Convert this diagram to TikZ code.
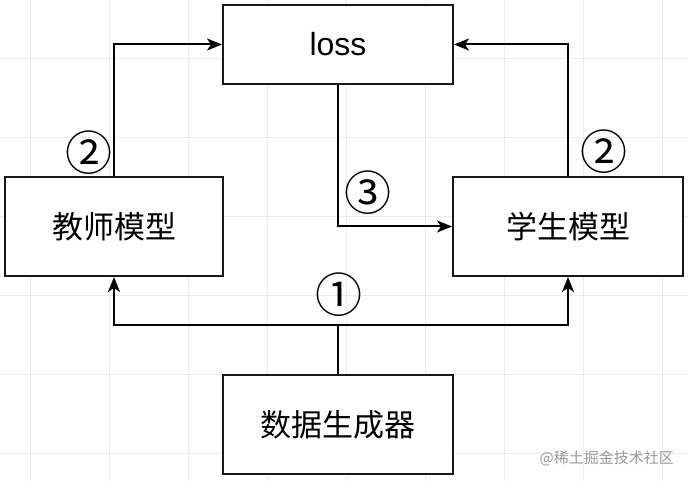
\documentclass[tikz,border=0pt]{standalone}
\usepackage{fontspec}
\setmainfont{Liberation Sans}
\newfontfamily\cjk{Noto Sans CJK SC}
\usetikzlibrary{arrows.meta}
\begin{document}
\begin{tikzpicture}[x=1pt,y=-1pt,
  box/.style={draw=black!90, line width=2pt, rectangle, inner sep=0pt, fill=white},
  cjklabel/.style={font=\cjk\fontsize{31}{36}\selectfont},
  conn/.style={line width=2pt, -{Stealth[length=15pt,width=12pt,inset=4pt]}},
  wire/.style={line width=2pt},
  num/.style={font=\cjk\fontsize{47}{52}\selectfont, inner sep=0pt},
  gridline/.style={draw=black!8, line width=0.8pt}]
\useasboundingbox (0,0) rectangle (688,481);
\fill[white] (0,0) rectangle (688,481);
% grid
\foreach \gx in {30,109,188,267,346,425,504,583,662} {\draw[gridline] (\gx,0) -- (\gx,481);}
\foreach \gy in {58,137,216,295,374,453} {\draw[gridline] (0,\gy) -- (688,\gy);}
% boxes
\node[box, minimum width=230pt, minimum height=79pt, font=\fontsize{32}{36}\selectfont] (loss) at (338,44.5) {loss};
\node[box, cjklabel, minimum width=218pt, minimum height=99pt] (teacher) at (114,226.5) {教师模型};
\node[box, cjklabel, minimum width=230pt, minimum height=99pt] (student) at (568,226.5) {学生模型};
\node[box, cjklabel, minimum width=230pt, minimum height=99pt] (data) at (338,424.5) {数据生成器};
% connectors
\draw[conn] (teacher.north) |- (loss.west);
\draw[conn] (student.north) |- (loss.east);
\draw[conn] (loss.south) |- (student.west);
\coordinate (j) at (338,325);
\draw[wire] (data.north) -- (j);
\draw[conn] (j) -| (teacher.south);
\draw[conn] (j) -| (student.south);
% labels
\node[num] (n1) at (339,295) {①};
\node[num] (n2a) at (89,153) {②};
\node[num] (n2b) at (604,152) {②};
\node[num] (n3) at (368,193) {③};
% watermark
\node[font=\cjk\fontsize{15}{18}\selectfont, text=black!40, anchor=east, inner sep=0pt] (wm) at (674,458) {@稀土掘金技术社区};
\end{tikzpicture}
\end{document}
